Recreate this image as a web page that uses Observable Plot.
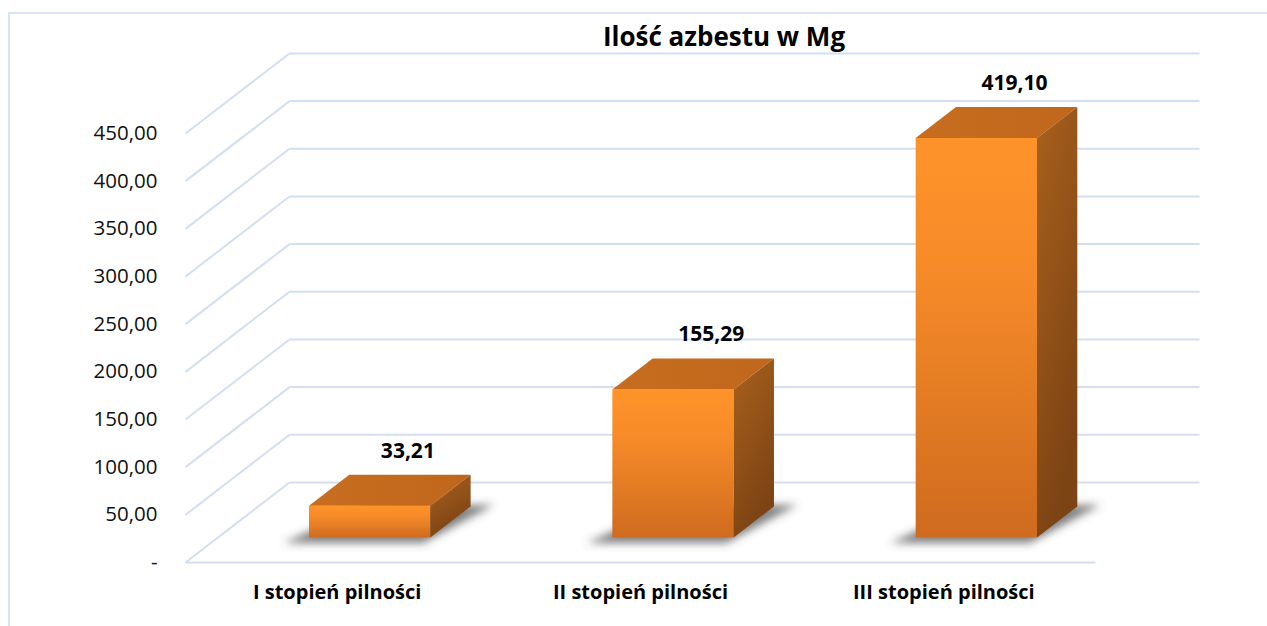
<!DOCTYPE html>
<html>
<head>
<meta charset="utf-8">
<script src="https://cdn.jsdelivr.net/npm/d3@7"></script>
<script src="https://cdn.jsdelivr.net/npm/@observablehq/plot@0.6"></script>
<style>
  body { margin: 0; background: #fff; }
  #wrap { position: relative; width: 1267px; height: 626px; overflow: hidden; background: #fff; }
  #border { position: absolute; left: 8px; top: 12px; width: 1400px; height: 900px;
            border-left: 2px solid #d9e4f3; border-top: 2px solid #d9e4f3; box-sizing: border-box; }
  #title { position: absolute; left: 424px; width: 600px; top: 18px; text-align: center;
           font-family: "Open Sans", sans-serif; font-weight: 700; font-size: 26px; line-height: 36px; color: #000; }
  #chart { position: absolute; left: 0; top: 0; }
</style>
</head>
<body>
<div id="wrap">
  <div id="border"></div>
  <div id="chart"></div>
  <div id="title"></div>
</div>
<script>
// ---- data ----
const chartTitle = "Ilość azbestu w Mg";
const categories = ["I stopień pilności", "II stopień pilności", "III stopień pilności"];
const values = [33.21, 155.29, 419.10];
const valueLabels = ["33,21", "155,29", "419,10"];
const yTicks = [0, 50, 100, 150, 200, 250, 300, 350, 400, 450];
const yTickLabels = ["-", "50,00", "100,00", "150,00", "200,00", "250,00", "300,00", "350,00", "400,00", "450,00"];

// ---- 3D geometry (style constants, in scale units) ----
const DX = 104 / 303.333;   // depth shift along x (category units)
const DY = 84;              // depth shift along y (value units)
const F0 = 0.3125, F1 = 0.7; // bar front / back depth fractions
const BW = 0.4;             // bar width (category units)
const P = (x, v, f) => [x + f * DX, v + f * DY];

document.getElementById("title").textContent = chartTitle;

const poly = (id, pts) => pts.map(([x, y]) => ({id, x, y}));
const fronts = [], tops = [], sides = [], shadows = [];
categories.forEach((c, i) => {
  const v = values[i], x0 = i + 0.5 - BW / 2, x1 = i + 0.5 + BW / 2;
  fronts.push(...poly("f" + i, [P(x0, 0, F0), P(x1, 0, F0), P(x1, v, F0), P(x0, v, F0)]));
  tops.push(...poly("t" + i, [P(x0, v, F0), P(x1, v, F0), P(x1, v, F1), P(x0, v, F1)]));
  sides.push(...poly("s" + i, [P(x1, 0, F0), P(x1, 0, F1), P(x1, v, F1), P(x1, v, F0)]));
  shadows.push(...poly("h" + i, [P(x0 - 0.06, 0, F0 - 0.07), P(x1, 0, F0 - 0.07), P(x1 + 0.07, 0, F1 + 0.02), P(x0 + 0.05, 0, F1)]));
});

const backLines = yTicks.map(v => ({x1: DX, x2: 3 + DX, y1: v + DY, y2: v + DY}));
const sideLines = yTicks.map(v => ({x1: 0, x2: DX, y1: v, y2: v + DY}));
const labelData = categories.map((c, i) => ({c, i, v: values[i], t: valueLabels[i]}));

const gridColor = "#d3dff1";

const plot = Plot.plot({
  width: 1267,
  height: 626,
  marginLeft: 185,
  marginRight: 172,
  marginTop: 133,
  marginBottom: 64,
  style: {fontFamily: "'Open Sans', sans-serif", background: "transparent", overflow: "visible"},
  x: {domain: [0, 3], axis: null},
  y: {domain: [0, 450], axis: null},
  marks: [
    Plot.link(backLines, {x1: "x1", x2: "x2", y1: "y1", y2: "y2", stroke: gridColor, strokeWidth: 2}),
    Plot.link(sideLines, {x1: "x1", x2: "x2", y1: "y1", y2: "y2", stroke: gridColor, strokeWidth: 2}),
    Plot.link([{a: 0, b: 3}], {x1: "a", x2: "b", y1: () => 0, y2: () => 0, stroke: gridColor, strokeWidth: 2}),
    Plot.axisY({ticks: yTicks, tickFormat: d => yTickLabels[yTicks.indexOf(d)], tickSize: 0, tickPadding: 28,
                fontSize: 20.5, fill: "#111", anchor: "left"}),
    Plot.line(shadows, {x: "x", y: "y", z: "id", fill: "#4a4a4a", fillOpacity: 0.7, stroke: "none", curve: "linear-closed"}),
    Plot.line(fronts, {x: "x", y: "y", z: "id", fill: "url(#gFront)", stroke: "none", curve: "linear-closed"}),
    Plot.line(tops, {x: "x", y: "y", z: "id", fill: "url(#gTop)", stroke: "none", curve: "linear-closed"}),
    Plot.line(sides, {x: "x", y: "y", z: "id", fill: "url(#gSide)", stroke: "none", curve: "linear-closed"}),
    Plot.text(labelData, {x: d => d.i + 0.5 + 0.68 * DX, y: d => d.v + F1 * DY, text: "t", dy: -24,
                          fontSize: 21, fontWeight: 700, fill: "#000"}),
    Plot.text(categories, {x: (d, i) => i + 0.5, y: () => 0, text: d => d, dy: 30,
                           fontSize: 20, fontWeight: 700, fill: "#000"})
  ]
});

const svg = d3.select(plot);
const defs = svg.insert("defs", ":first-child");
const lg = (id, x2, y2, stops) => {
  const g = defs.append("linearGradient").attr("id", id).attr("x1", 0).attr("y1", 0).attr("x2", x2).attr("y2", y2);
  stops.forEach(([o, c]) => g.append("stop").attr("offset", o).attr("stop-color", c));
};
lg("gFront", 0, 1, [[0, "#ff932a"], [0.35, "#f58a28"], [1, "#cf6b1f"]]);
lg("gTop", 1, 0, [[0, "#c66d1f"], [1, "#c0671c"]]);
lg("gSide", 0.4, 1, [[0, "#a9611d"], [1, "#7c4314"]]);
const flt = defs.append("filter").attr("id", "blur").attr("x", "-50%").attr("y", "-50%").attr("width", "200%").attr("height", "200%");
flt.append("feGaussianBlur").attr("stdDeviation", 4);
const lineGroups = svg.selectAll('g[aria-label="line"]').nodes();
if (lineGroups.length) d3.select(lineGroups[0]).attr("filter", "url(#blur)");

document.getElementById("chart").appendChild(plot);
</script>
</body>
</html>
